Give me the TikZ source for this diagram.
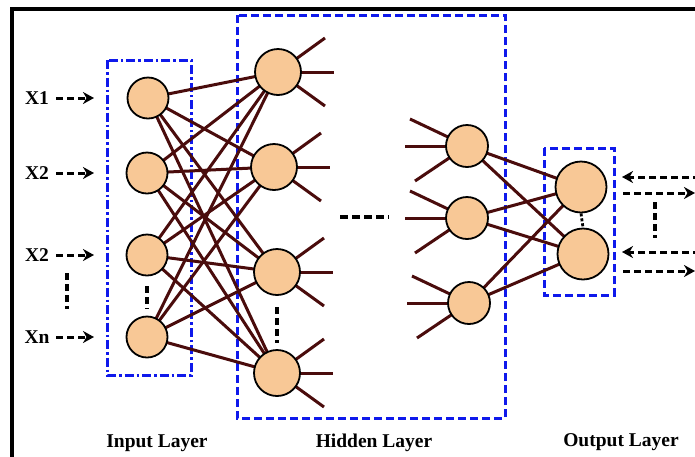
\documentclass[tikz,border=0pt]{standalone}
\usepackage{fontspec}
\setmainfont{Liberation Serif}
\usetikzlibrary{arrows.meta,backgrounds}
\definecolor{peach}{RGB}{248,200,150}
\definecolor{wirec}{RGB}{74,12,12}
\definecolor{boxblue}{RGB}{15,25,235}
\begin{document}
\begin{tikzpicture}[x=1pt,y=-1pt,
  neuron/.style={circle,draw=black,line width=1.8pt,fill=peach,inner sep=0pt,minimum size=#1},
  wire/.style={draw=wirec,line width=3pt},
  lbl/.style={font=\fontsize{19.5}{22}\selectfont\bfseries,inner sep=0pt},
  darr/.style={draw=black,line width=3pt,dash pattern=on 7pt off 4pt,-{Stealth[length=11pt,width=12pt,inset=3.5pt]}},
  vdash/.style={draw=black,line width=3.2pt,dash pattern=on 7pt off 4pt},
  dashbox/.style={draw=boxblue,line width=3pt,dash pattern=on 8pt off 4pt},
  dotbox/.style={draw=boxblue,line width=3pt,dash pattern=on 9pt off 3pt on 2.5pt off 3pt}
]
\useasboundingbox (0,0) rectangle (695,456);
% frame
\draw[line width=3.5pt] (12,480) -- (12,9) -- (720,9);

% input nodes
\node[neuron=41pt] (i1) at (148,98) {};
\node[neuron=41pt] (i2) at (147,173) {};
\node[neuron=41pt] (i3) at (147,255) {};
\node[neuron=41pt] (i4) at (147,337) {};
% hidden layer 1
\node[neuron=46pt] (h1) at (278,72) {};
\node[neuron=46pt] (h2) at (274,167) {};
\node[neuron=46pt] (h3) at (277,272) {};
\node[neuron=46pt] (h4) at (277,373) {};
% hidden layer 2
\node[neuron=42pt] (g1) at (467,146) {};
\node[neuron=42pt] (g2) at (467,218) {};
\node[neuron=42pt] (g3) at (469,303) {};
% output
\node[neuron=51pt] (o1) at (581,187) {};
\node[neuron=51pt] (o2) at (583,254) {};

% stub end points
\foreach \n in {h1,h2,h3,h4}{
  \path (\n.center) ++(47,-34) coordinate (\n a);
  \path (\n.center) ++(56,0) coordinate (\n b);
  \path (\n.center) ++(47,34) coordinate (\n c);
}
\foreach \n in {g1,g2,g3}{
  \path (\n.center) ++(-57,-27) coordinate (\n a);
  \path (\n.center) ++(-62,0) coordinate (\n b);
  \path (\n.center) ++(-52,35) coordinate (\n c);
}

\begin{pgfonlayer}{background}
  \fill[white] (0,0) rectangle (695,456);
  % boxes
  \draw[dotbox] (107,60) rectangle (191,375);
  \draw[dashbox] (237,15) rectangle (505,418);
  \draw[dashbox] (544,148) rectangle (614,295);
  % input to hidden
  \foreach \a in {i1,i2,i3,i4}{
    \foreach \b in {h1,h2,h3,h4}{
      \draw[wire] (\a.center) -- (\b.center);
    }
  }
  % stubs
  \foreach \n in {h1,h2,h3,h4,g1,g2,g3}{
    \draw[wire] (\n.center) -- (\n a);
    \draw[wire] (\n.center) -- (\n b);
    \draw[wire] (\n.center) -- (\n c);
  }
  % hidden 2 to output
  \foreach \a in {g1,g2,g3}{
    \foreach \b in {o1,o2}{
      \draw[wire] (\a.center) -- (\b.center);
    }
  }
\end{pgfonlayer}

% input labels and arrows
\node[lbl] (x1) at (37,98) {X1};
\node[lbl] (x2) at (37,173) {X2};
\node[lbl] (x3) at (37,255) {X2};
\node[lbl] (xn) at (37,337) {Xn};
\coordinate (x1s) at (56,98);
\coordinate (x2s) at (56,173);
\coordinate (x3s) at (56,255);
\coordinate (xns) at (56,337);
\coordinate (x1e) at (94,98);
\coordinate (x2e) at (94,173);
\coordinate (x3e) at (94,255);
\coordinate (xne) at (94,337);
\draw[darr] (x1s) -- (x1e);
\draw[darr] (x2s) -- (x2e);
\draw[darr] (x3s) -- (x3e);
\draw[darr] (xns) -- (xne);
\coordinate (xv1) at (67,273);
\coordinate (xv2) at (67,309);
\draw[vdash] (xv1) -- (xv2);

% dashes between nodes
\coordinate (i3d) at (147,286);
\coordinate (i4d) at (147,309);
\draw[vdash] (i3d) -- (i4d);
\coordinate (h3d) at (277,307);
\coordinate (h4d) at (277,343);
\draw[vdash] (h3d) -- (h4d);
\draw[draw=black,line width=2.8pt,dash pattern=on 3pt off 2pt] (o1.south) -- (o2.north);
\coordinate (m1) at (340,217);
\coordinate (m2) at (389,217);
\draw[draw=black,line width=3.2pt,dash pattern=on 8pt off 4pt] (m1) -- (m2);

% output arrows
\coordinate (r1a) at (700,177);
\coordinate (r1b) at (622,177);
\coordinate (r2a) at (623,193);
\coordinate (r2b) at (695,193);
\coordinate (r3a) at (700,252);
\coordinate (r3b) at (622,252);
\coordinate (r4a) at (623,271);
\coordinate (r4b) at (695,271);
\draw[darr] (r1a) -- (r1b);
\draw[darr] (r2a) -- (r2b);
\draw[darr] (r3a) -- (r3b);
\draw[darr] (r4a) -- (r4b);
\coordinate (rv1) at (655,202);
\coordinate (rv2) at (655,238);
\draw[vdash] (rv1) -- (rv2);

% layer labels
\node[lbl,anchor=base] (inl) at (157,447) {Input Layer};
\node[lbl,anchor=base] (hil) at (374,447) {Hidden Layer};
\node[lbl,anchor=base] (oul) at (621,446) {Output Layer};
\end{tikzpicture}
\end{document}
